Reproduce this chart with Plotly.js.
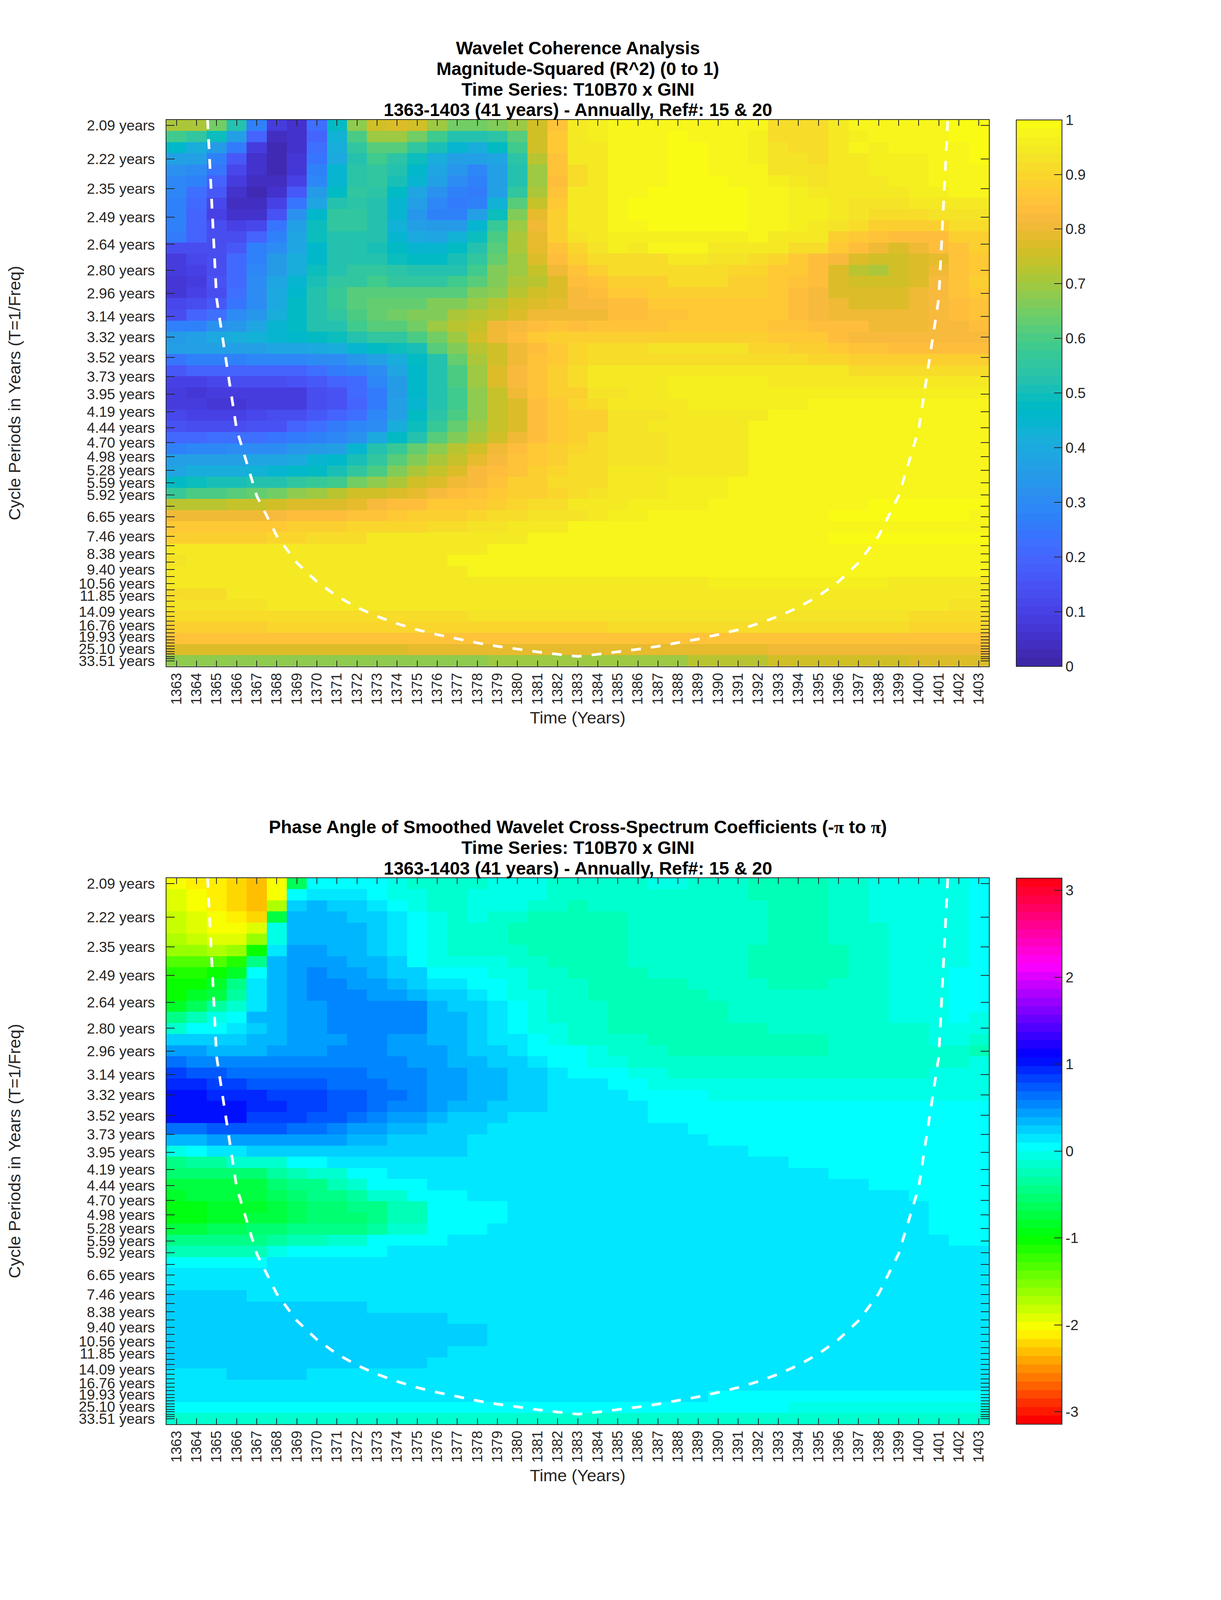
<!DOCTYPE html>
<html>
<head>
<meta charset="utf-8">
<script src="https://cdn.plot.ly/plotly-3.0.1.min.js"></script>
<style>html,body{margin:0;padding:0;background:#fff;overflow:hidden}</style>
</head>
<body>
<div id="chart"></div>
<script>
// Time axis
const years = [1363,1364,1365,1366,1367,1368,1369,1370,1371,1372,1373,1374,1375,1376,1377,1378,1379,1380,1381,1382,1383,1384,1385,1386,1387,1388,1389,1390,1391,1392,1393,1394,1395,1396,1397,1398,1399,1400,1401,1402,1403];

// Cycle periods, one per row of the grids, top to bottom
const periods = [2.09,2.22,2.35,2.49,2.64,2.80,2.96,3.14,3.32,3.52,3.73,3.95,4.19,4.44,4.70,4.98,5.28,5.59,5.92,6.28,6.65,7.04,7.46,7.91,8.38,8.88,9.40,9.96,10.56,11.18,11.85,12.55,13.30,14.09,14.93,15.82,16.76,17.75,18.81,19.93,21.11,22.37,23.70,25.10,26.60,28.18,29.86,31.63,33.51];
const labelledPeriods = [2.09,2.22,2.35,2.49,2.64,2.80,2.96,3.14,3.32,3.52,3.73,3.95,4.19,4.44,4.70,4.98,5.28,5.59,5.92,6.65,7.46,8.38,9.40,10.56,11.85,14.09,16.76,19.93,25.10,33.51];

// Cone of influence: period reached at each year from 1364 to 1402
const coiYears = [1364,1365,1366,1367,1368,1369,1370,1371,1372,1373,1374,1375,1376,1377,1378,1379,1380,1381,1382,1383,1384,1385,1386,1387,1388,1389,1390,1391,1392,1393,1394,1395,1396,1397,1398,1399,1400,1401,1402];
const coiPeriods = [1.5,3.0,4.47,5.95,7.44,8.93,10.4,11.9,13.4,14.9,16.4,17.9,19.3,20.8,22.3,23.8,25.3,26.8,28.3,29.8,28.3,26.8,25.3,23.8,22.3,20.8,19.3,17.9,16.4,14.9,13.4,11.9,10.4,8.93,7.44,5.95,4.47,3.0,1.5];

// Magnitude-squared coherence, rows follow periods, columns follow years
const coherence = [
[.71,.71,.65,.53,.27,.09,.06,.22,.47,.68,.76,.78,.75,.70,.65,.65,.66,.70,.76,.85,.94,.96,.97,.97,.97,.97,.97,.97,.97,.97,.92,.91,.91,.95,.97,.97,.97,.97,.98,.99,.99],
[.58,.56,.49,.36,.19,.04,.05,.20,.43,.60,.69,.70,.65,.58,.53,.52,.54,.62,.76,.87,.94,.96,.97,.97,.97,.99,.97,.97,.97,.96,.92,.91,.91,.95,.96,.97,.97,.97,.97,.99,.99],
[.46,.42,.35,.25,.09,.02,.05,.23,.41,.55,.62,.62,.55,.50,.44,.41,.47,.58,.75,.87,.94,.95,.97,.97,.97,.99,.99,.97,.97,.96,.93,.91,.91,.94,.97,.96,.97,.97,.97,.97,.99],
[.37,.36,.27,.17,.06,.02,.07,.24,.40,.53,.59,.54,.49,.42,.36,.36,.39,.54,.72,.85,.94,.95,.97,.97,.97,.99,.99,.97,.97,.96,.93,.93,.91,.94,.95,.96,.96,.96,.97,.97,.99],
[.32,.31,.24,.11,.05,.02,.07,.27,.44,.54,.56,.53,.46,.38,.33,.29,.37,.52,.70,.85,.92,.95,.97,.97,.97,.99,.99,.97,.97,.97,.93,.93,.93,.94,.95,.96,.96,.96,.97,.97,.97],
[.29,.27,.19,.08,.04,.04,.10,.29,.45,.54,.56,.50,.44,.37,.30,.28,.36,.52,.70,.84,.92,.95,.97,.97,.97,.99,.99,.99,.97,.97,.96,.95,.93,.94,.95,.95,.96,.96,.97,.97,.97],
[.29,.23,.17,.06,.03,.06,.17,.35,.48,.55,.54,.47,.39,.32,.27,.26,.36,.56,.71,.85,.94,.95,.97,.97,.99,.99,.99,.99,.99,.97,.97,.96,.95,.95,.95,.95,.95,.96,.96,.97,.97],
[.28,.21,.11,.04,.04,.10,.24,.39,.52,.54,.52,.45,.37,.29,.25,.28,.43,.62,.74,.87,.94,.95,.97,.99,.99,.99,.99,.99,.99,.97,.97,.96,.96,.94,.93,.93,.93,.94,.94,.95,.95],
[.28,.20,.10,.06,.06,.15,.32,.46,.55,.55,.52,.44,.34,.28,.27,.36,.49,.66,.79,.88,.94,.95,.97,.99,.99,.99,.99,.99,.99,.97,.97,.96,.96,.94,.93,.91,.91,.91,.93,.93,.93],
[.28,.20,.13,.10,.12,.24,.36,.49,.55,.55,.52,.43,.37,.35,.35,.44,.57,.70,.80,.88,.94,.95,.97,.97,.99,.99,.99,.99,.99,.97,.97,.96,.94,.93,.91,.89,.88,.88,.89,.91,.91],
[.25,.19,.14,.14,.19,.28,.38,.49,.53,.53,.52,.45,.40,.38,.43,.49,.60,.71,.79,.88,.93,.94,.96,.96,.96,.96,.96,.96,.96,.97,.95,.94,.94,.89,.87,.85,.83,.83,.84,.88,.88],
[.14,.14,.14,.17,.27,.31,.39,.46,.52,.52,.50,.47,.44,.44,.48,.52,.61,.71,.79,.85,.90,.93,.96,.95,.97,.97,.97,.95,.95,.94,.94,.92,.91,.87,.84,.81,.78,.81,.83,.85,.88],
[.09,.11,.13,.21,.27,.35,.42,.46,.52,.52,.52,.49,.47,.47,.50,.55,.63,.70,.77,.84,.88,.91,.92,.92,.92,.95,.95,.93,.93,.92,.90,.87,.84,.82,.77,.75,.75,.77,.79,.85,.87],
[.08,.10,.13,.21,.29,.35,.41,.49,.52,.55,.55,.54,.52,.52,.52,.58,.66,.70,.74,.80,.85,.88,.91,.91,.92,.92,.92,.92,.90,.90,.87,.86,.84,.78,.73,.71,.75,.78,.80,.85,.87],
[.07,.09,.15,.21,.30,.38,.44,.50,.55,.56,.58,.56,.56,.56,.58,.61,.66,.71,.73,.77,.84,.85,.88,.88,.88,.91,.91,.91,.89,.88,.86,.85,.83,.78,.75,.75,.75,.78,.82,.85,.88],
[.07,.10,.14,.22,.30,.40,.46,.52,.57,.61,.62,.62,.62,.62,.62,.66,.68,.73,.76,.77,.82,.83,.87,.87,.88,.88,.88,.88,.88,.88,.87,.84,.82,.78,.77,.77,.78,.80,.82,.85,.87],
[.11,.13,.16,.24,.31,.40,.48,.52,.57,.62,.64,.64,.64,.66,.67,.70,.72,.76,.77,.79,.82,.82,.84,.84,.86,.87,.87,.87,.87,.87,.86,.84,.82,.80,.78,.78,.78,.80,.82,.83,.85],
[.14,.19,.22,.30,.34,.42,.47,.52,.56,.60,.63,.65,.67,.67,.71,.73,.74,.78,.80,.81,.81,.81,.84,.84,.85,.85,.87,.87,.87,.87,.86,.84,.82,.80,.80,.80,.80,.80,.82,.84,.85],
[.27,.27,.32,.34,.38,.44,.48,.52,.53,.58,.62,.62,.65,.69,.72,.74,.80,.82,.84,.85,.84,.85,.85,.85,.85,.87,.87,.87,.87,.87,.85,.85,.84,.83,.83,.80,.80,.80,.82,.82,.83],
[.35,.36,.40,.42,.43,.45,.46,.47,.49,.53,.55,.56,.60,.65,.70,.75,.80,.84,.87,.88,.88,.88,.88,.88,.88,.88,.88,.88,.88,.88,.87,.87,.86,.84,.82,.82,.82,.82,.82,.82,.82],
[.36,.36,.36,.36,.37,.38,.39,.40,.41,.44,.47,.49,.51,.61,.66,.72,.76,.80,.84,.87,.90,.91,.91,.91,.93,.93,.93,.93,.93,.90,.90,.89,.89,.87,.85,.85,.84,.84,.84,.84,.84],
[.24,.27,.28,.28,.29,.29,.29,.30,.31,.33,.37,.42,.48,.53,.63,.71,.76,.80,.85,.87,.90,.92,.92,.92,.92,.92,.92,.92,.92,.92,.92,.92,.90,.90,.89,.89,.88,.88,.88,.88,.88],
[.17,.19,.19,.19,.19,.20,.20,.22,.25,.27,.31,.38,.46,.52,.60,.70,.77,.82,.85,.88,.91,.94,.94,.94,.94,.94,.94,.94,.94,.94,.94,.94,.94,.94,.91,.91,.91,.91,.91,.91,.91],
[.10,.10,.11,.13,.13,.14,.15,.17,.19,.21,.29,.35,.46,.52,.60,.70,.77,.82,.85,.88,.91,.94,.95,.95,.95,.96,.96,.96,.96,.96,.95,.95,.95,.95,.95,.95,.95,.95,.95,.95,.95],
[.09,.07,.08,.09,.08,.08,.09,.13,.15,.21,.26,.35,.46,.52,.58,.68,.74,.80,.85,.88,.89,.93,.93,.94,.94,.96,.96,.96,.96,.96,.96,.96,.96,.96,.96,.96,.96,.96,.96,.96,.96],
[.09,.09,.07,.07,.08,.08,.09,.13,.15,.19,.26,.36,.45,.52,.58,.68,.74,.78,.84,.87,.90,.91,.94,.94,.94,.94,.96,.96,.96,.96,.96,.96,.97,.97,.97,.97,.97,.97,.97,.97,.97],
[.11,.10,.10,.10,.12,.13,.14,.17,.19,.22,.29,.37,.47,.54,.60,.68,.74,.78,.84,.87,.88,.89,.93,.93,.93,.95,.95,.95,.95,.95,.97,.97,.97,.97,.97,.97,.97,.97,.97,.97,.97],
[.15,.14,.14,.14,.15,.15,.19,.23,.25,.29,.31,.42,.49,.57,.63,.70,.74,.78,.84,.87,.88,.89,.93,.93,.94,.95,.95,.95,.95,.97,.97,.97,.97,.97,.97,.97,.97,.97,.97,.97,.97],
[.21,.21,.23,.23,.23,.24,.25,.27,.29,.32,.40,.48,.53,.61,.66,.71,.76,.81,.84,.87,.89,.91,.93,.93,.93,.95,.95,.95,.95,.97,.97,.97,.97,.97,.97,.97,.97,.97,.97,.97,.97],
[.28,.29,.29,.30,.31,.31,.33,.35,.37,.45,.52,.57,.63,.68,.72,.76,.81,.84,.87,.89,.90,.91,.93,.93,.93,.95,.95,.95,.95,.97,.97,.97,.97,.97,.97,.97,.97,.97,.97,.97,.97],
[.36,.36,.37,.37,.38,.38,.40,.44,.46,.50,.56,.62,.67,.71,.74,.79,.82,.85,.87,.89,.91,.92,.93,.93,.93,.95,.95,.95,.95,.97,.97,.97,.97,.97,.97,.97,.97,.97,.97,.97,.97],
[.38,.41,.42,.42,.43,.44,.46,.48,.51,.56,.60,.67,.71,.74,.78,.82,.84,.85,.89,.90,.91,.92,.94,.94,.95,.95,.95,.95,.95,.97,.97,.97,.97,.97,.97,.97,.97,.97,.97,.97,.97],
[.48,.49,.50,.50,.52,.53,.55,.57,.59,.65,.68,.71,.75,.78,.81,.82,.85,.88,.88,.91,.91,.92,.94,.94,.95,.96,.96,.96,.97,.97,.97,.97,.97,.97,.97,.97,.97,.97,.97,.97,.97],
[.57,.60,.60,.62,.64,.65,.68,.70,.72,.75,.75,.78,.79,.82,.84,.85,.86,.88,.89,.90,.91,.93,.94,.95,.95,.96,.96,.96,.98,.98,.98,.98,.98,.98,.98,.98,.98,.98,.98,.98,.98],
[.72,.72,.72,.74,.74,.75,.77,.78,.78,.79,.82,.83,.84,.86,.86,.87,.89,.90,.91,.92,.94,.95,.95,.96,.96,.96,.96,.97,.97,.97,.97,.97,.97,.97,.97,.99,.99,.99,.99,.99,.99],
[.81,.81,.81,.81,.81,.82,.83,.83,.84,.85,.85,.87,.88,.89,.89,.90,.91,.92,.93,.93,.93,.95,.96,.96,.97,.97,.97,.97,.97,.97,.97,.97,.97,.99,.99,.99,.99,.99,.99,.99,.98],
[.87,.87,.87,.87,.87,.86,.89,.89,.89,.90,.90,.90,.90,.91,.92,.93,.93,.94,.94,.95,.97,.97,.97,.97,.97,.97,.97,.97,.97,.97,.97,.97,.98,.98,.98,.98,.98,.98,.98,.98,.98],
[.89,.89,.89,.89,.89,.90,.90,.91,.91,.91,.94,.94,.94,.94,.95,.95,.95,.95,.97,.97,.97,.97,.97,.97,.97,.97,.97,.97,.97,.97,.97,.97,.97,.99,.99,.99,.99,.99,.99,.99,.99],
[.94,.94,.94,.94,.94,.94,.94,.94,.94,.94,.95,.95,.95,.95,.95,.95,.97,.97,.97,.97,.97,.97,.98,.98,.98,.98,.98,.98,.98,.98,.98,.98,.98,.98,.98,.98,.98,.98,.98,.98,.98],
[.93,.95,.95,.95,.95,.95,.95,.95,.95,.95,.95,.95,.95,.95,.97,.97,.97,.97,.97,.97,.97,.97,.97,.97,.98,.98,.98,.98,.98,.98,.98,.98,.98,.98,.98,.98,.98,.98,.98,.98,.97],
[.94,.95,.95,.95,.95,.95,.95,.95,.95,.95,.95,.95,.95,.95,.95,.97,.97,.97,.97,.97,.97,.97,.97,.97,.97,.97,.97,.97,.97,.97,.97,.97,.97,.97,.97,.97,.97,.97,.97,.97,.97],
[.94,.94,.94,.94,.94,.94,.94,.95,.95,.95,.95,.95,.95,.95,.95,.95,.95,.95,.95,.95,.95,.95,.95,.95,.95,.95,.95,.96,.96,.96,.96,.96,.96,.96,.96,.96,.95,.95,.95,.95,.95],
[.92,.92,.92,.94,.94,.94,.94,.94,.94,.94,.94,.94,.94,.94,.94,.94,.94,.94,.95,.95,.95,.95,.95,.95,.95,.95,.95,.95,.95,.95,.95,.95,.95,.95,.95,.95,.95,.95,.95,.94,.94],
[.93,.93,.93,.93,.93,.94,.94,.94,.94,.94,.94,.94,.94,.94,.94,.94,.94,.94,.94,.94,.94,.94,.94,.94,.94,.94,.94,.94,.94,.94,.94,.94,.94,.94,.94,.94,.94,.94,.94,.93,.93],
[.92,.92,.92,.92,.92,.92,.92,.92,.92,.92,.92,.92,.92,.92,.92,.93,.93,.93,.93,.93,.93,.93,.93,.93,.93,.93,.93,.93,.93,.93,.93,.93,.93,.93,.93,.93,.93,.92,.92,.92,.92],
[.89,.89,.89,.89,.89,.90,.90,.90,.90,.90,.90,.90,.90,.90,.90,.90,.90,.90,.90,.90,.90,.90,.92,.92,.92,.92,.92,.92,.92,.92,.92,.92,.92,.92,.92,.92,.92,.90,.90,.90,.90],
[.85,.85,.85,.85,.85,.85,.85,.85,.85,.85,.85,.85,.85,.85,.85,.85,.85,.85,.85,.85,.85,.85,.85,.85,.85,.85,.85,.85,.85,.85,.85,.85,.85,.85,.85,.85,.85,.85,.85,.85,.85],
[.77,.77,.77,.77,.77,.77,.77,.77,.77,.77,.77,.77,.79,.79,.79,.79,.79,.79,.79,.79,.79,.79,.79,.79,.79,.79,.79,.79,.79,.79,.81,.81,.81,.81,.81,.81,.81,.81,.81,.81,.81],
[.68,.68,.68,.68,.68,.68,.68,.68,.68,.68,.68,.68,.68,.68,.68,.68,.70,.70,.70,.70,.70,.70,.70,.70,.70,.70,.73,.73,.73,.73,.75,.75,.75,.75,.75,.75,.75,.77,.77,.77,.77]
];

// Phase angle in radians, rows follow periods, columns follow years
const phase = [
[-2.05,-2.15,-2.15,-2.22,-2.32,-2.05,-.6,.02,.02,.02,.02,-.05,-.15,-.15,-.15,-.15,-.05,-.05,-.05,-.15,-.15,-.15,-.15,-.15,-.05,-.05,-.15,-.15,-.15,-.25,-.25,-.25,-.25,-.15,-.15,-.05,-.05,-.05,-.05,-.05,.02],
[-1.95,-2.02,-2.1,-2.22,-2.32,-2.05,.02,.1,.1,.1,.02,-.05,-.05,-.15,-.15,-.05,-.05,-.05,-.05,-.15,-.15,-.15,-.15,-.15,-.15,-.15,-.15,-.15,-.15,-.25,-.25,-.25,-.25,-.15,-.15,-.05,-.05,-.05,-.05,-.05,.02],
[-1.95,-2.02,-2.1,-2.22,-2.32,-1.7,.2,.3,.2,.2,.1,.02,-.05,-.15,-.15,-.05,-.05,-.05,-.15,-.15,-.25,-.15,-.15,-.15,-.15,-.15,-.15,-.15,-.15,-.15,-.25,-.25,-.25,-.15,-.15,-.05,-.05,-.05,-.05,-.05,.02],
[-1.8,-1.9,-2.05,-2.1,-2.22,-.72,.3,.3,.3,.2,.2,.1,.02,-.05,-.15,-.05,-.15,-.15,-.25,-.25,-.25,-.25,-.25,-.15,-.15,-.15,-.15,-.15,-.15,-.15,-.25,-.25,-.25,-.15,-.15,-.05,-.05,-.05,-.05,-.05,.02],
[-1.8,-1.9,-2.05,-2.05,-1.95,-.05,.3,.3,.3,.3,.2,.1,.02,-.05,-.15,-.15,-.15,-.25,-.25,-.25,-.25,-.25,-.25,-.15,-.15,-.15,-.15,-.15,-.15,-.15,-.25,-.25,-.25,-.15,-.15,-.15,-.05,-.05,-.05,-.05,.02],
[-1.7,-1.8,-1.9,-1.9,-1.6,-.05,.3,.3,.3,.3,.2,.1,.02,-.05,-.15,-.15,-.15,-.25,-.25,-.25,-.25,-.25,-.25,-.15,-.15,-.15,-.15,-.15,-.15,-.15,-.25,-.25,-.25,-.15,-.15,-.15,-.05,-.05,-.05,-.05,.02],
[-1.6,-1.6,-1.7,-1.6,-1.02,.1,.4,.4,.3,.3,.2,.1,.02,-.05,-.15,-.15,-.15,-.15,-.25,-.25,-.25,-.25,-.25,-.15,-.15,-.15,-.15,-.15,-.15,-.25,-.25,-.25,-.25,-.25,-.15,-.15,-.05,-.05,-.05,-.05,.02],
[-1.35,-1.35,-1.3,-1.15,-.4,.3,.4,.4,.4,.3,.3,.2,.02,-.05,-.05,-.05,-.05,-.15,-.15,-.25,-.25,-.25,-.25,-.15,-.15,-.15,-.15,-.15,-.15,-.25,-.25,-.25,-.25,-.25,-.15,-.15,-.05,-.05,-.05,-.05,.02],
[-1.15,-1.15,-1.03,-.8,.02,.3,.4,.5,.4,.4,.3,.2,.2,.02,.02,.02,-.05,-.05,-.15,-.15,-.25,-.25,-.25,-.25,-.15,-.15,-.15,-.15,-.15,-.25,-.25,-.25,-.25,-.25,-.15,-.15,-.05,-.05,-.05,.02,.02],
[-1.03,-1.0,-.85,-.45,.1,.3,.4,.5,.5,.4,.4,.3,.2,.1,.1,.02,.02,-.05,-.15,-.15,-.15,-.25,-.25,-.25,-.25,-.25,-.15,-.15,-.15,-.15,-.25,-.25,-.25,-.15,-.15,-.15,-.05,-.05,-.05,.02,.02],
[-1.0,-.85,-.7,-.3,.1,.3,.4,.5,.5,.5,.4,.4,.3,.2,.2,.1,.02,-.05,-.05,-.15,-.15,-.25,-.25,-.25,-.25,-.25,-.25,-.15,-.15,-.15,-.15,-.15,-.15,-.15,-.15,-.15,-.05,-.05,-.05,.02,.02],
[-.8,-.65,-.3,-.1,.1,.3,.4,.4,.5,.5,.5,.55,.55,.3,.2,.2,.1,.02,-.05,-.15,-.15,-.15,-.25,-.25,-.25,-.25,-.25,-.25,-.15,-.15,-.15,-.15,-.15,-.15,-.15,-.15,-.05,-.05,-.05,.02,.02],
[-.45,-.2,-.05,.02,.3,.3,.4,.4,.5,.5,.5,.55,.55,.3,.3,.2,.1,.02,-.05,-.15,-.15,-.15,-.25,-.25,-.25,-.25,-.25,-.25,-.15,-.15,-.15,-.15,-.15,-.15,-.15,-.15,-.05,-.05,-.05,.02,-.05],
[-.15,.02,.02,.1,.2,.3,.4,.4,.5,.5,.5,.55,.55,.3,.3,.2,.1,.02,-.05,-.05,-.15,-.15,-.25,-.25,-.25,-.25,-.25,-.25,-.25,-.25,-.15,-.15,-.15,-.15,-.15,-.15,-.15,-.15,-.05,-.05,-.05],
[.2,.2,.2,.2,.3,.3,.4,.4,.4,.5,.5,.4,.4,.3,.3,.2,.1,.1,.02,-.05,-.15,-.15,-.15,-.15,-.25,-.25,-.25,-.25,-.25,-.25,-.25,-.25,-.25,-.15,-.15,-.15,-.15,-.15,-.05,-.05,-.15],
[.4,.4,.3,.3,.3,.4,.4,.4,.5,.5,.5,.4,.4,.4,.3,.2,.2,.1,.02,.02,.02,-.05,-.15,-.15,-.15,-.25,-.25,-.25,-.25,-.25,-.25,-.25,-.25,-.15,-.15,-.15,-.15,-.15,-.15,-.15,-.25],
[.65,.55,.55,.55,.55,.55,.55,.55,.55,.55,.55,.55,.4,.4,.3,.3,.2,.2,.1,.02,.02,-.05,-.05,-.15,-.15,-.15,-.15,-.15,-.15,-.15,-.15,-.15,-.15,-.15,-.15,-.15,-.15,-.15,-.15,-.15,-.05],
[.85,.7,.7,.65,.65,.65,.65,.65,.65,.65,.55,.55,.55,.4,.4,.3,.3,.2,.2,.1,.02,.02,.02,-.05,-.05,-.15,-.15,-.15,-.15,-.15,-.15,-.15,-.15,-.15,-.15,-.15,-.15,-.15,-.05,-.05,-.05],
[.92,.92,.8,.8,.7,.7,.7,.7,.65,.65,.65,.55,.55,.4,.4,.3,.3,.2,.2,.1,.1,.1,.02,.02,-.05,-.05,-.05,-.05,-.05,-.05,-.05,-.05,-.05,-.05,-.05,-.05,-.05,-.05,-.05,-.05,-.05],
[1.05,1.05,.9,.9,.9,.8,.8,.8,.7,.7,.6,.6,.55,.4,.4,.3,.3,.2,.2,.1,.1,.1,.1,.02,.02,.02,.02,-.05,-.05,-.05,-.05,-.05,-.05,-.05,-.05,-.05,-.05,-.05,-.05,-.05,-.05],
[1.05,1.05,1.05,1.05,.95,.95,.8,.8,.7,.7,.65,.55,.55,.4,.3,.3,.2,.2,.2,.1,.1,.1,.1,.1,.02,.02,.02,.02,.02,.02,.02,.02,.02,.02,.02,.02,.02,.02,.02,.02,.02],
[1.0,1.0,1.0,1.0,.85,.85,.85,.7,.7,.65,.55,.4,.4,.3,.2,.2,.2,.1,.1,.1,.1,.1,.1,.1,.02,.02,.02,.02,.02,.02,.02,.02,.02,.02,.02,.02,.02,.02,.02,.02,.02],
[.65,.65,.75,.75,.75,.75,.65,.65,.55,.4,.4,.35,.35,.2,.2,.2,.1,.1,.1,.1,.1,.1,.1,.1,.1,.1,.02,.02,.02,.02,.02,.02,.02,.02,.02,.02,.02,.02,.02,.02,.02],
[.33,.33,.4,.4,.4,.4,.4,.4,.4,.33,.33,.2,.2,.2,.2,.1,.1,.1,.1,.1,.1,.1,.1,.1,.1,.1,.1,.02,.02,.02,.02,.02,.02,.02,.02,.02,.02,.02,.02,.02,.02],
[-.05,.02,.1,.1,.2,.2,.2,.2,.2,.2,.2,.2,.2,.2,.2,.1,.1,.1,.1,.1,.1,.1,.1,.1,.1,.1,.1,.1,.1,.02,.02,.02,.02,.02,.02,.02,.02,.02,.02,.02,.02],
[-.4,-.3,-.3,-.15,-.15,-.15,.02,.02,.1,.1,.1,.1,.1,.1,.1,.1,.1,.1,.1,.1,.1,.1,.1,.1,.1,.1,.1,.1,.1,.1,.1,.02,.02,.02,.02,.02,.02,.02,.02,.02,.02],
[-.5,-.5,-.5,-.55,-.5,-.35,-.25,-.15,-.15,.02,.02,.1,.1,.1,.1,.1,.1,.1,.1,.1,.1,.1,.1,.1,.1,.1,.1,.1,.1,.1,.1,.1,.1,.02,.02,.02,.02,.02,.02,.02,.02],
[-.7,-.7,-.7,-.7,-.7,-.55,-.45,-.4,-.25,-.15,.02,.02,.02,.1,.1,.1,.1,.1,.1,.1,.1,.1,.1,.1,.1,.1,.1,.1,.1,.1,.1,.1,.1,.1,.1,.02,.02,.02,.02,.02,.02],
[-.8,-.75,-.75,-.75,-.75,-.65,-.55,-.45,-.4,-.35,-.15,-.15,.02,.02,.02,.1,.1,.1,.1,.1,.1,.1,.1,.1,.1,.1,.1,.1,.1,.1,.1,.1,.1,.1,.1,.1,.1,.02,.02,.02,.02],
[-.95,-.9,-.85,-.8,-.8,-.7,-.6,-.55,-.5,-.45,-.4,-.25,-.25,.02,.02,.02,.02,.1,.1,.1,.1,.1,.1,.1,.1,.1,.1,.1,.1,.1,.1,.1,.1,.1,.1,.1,.1,.1,.02,.02,.02],
[-.95,-.9,-.85,-.8,-.75,-.7,-.6,-.55,-.55,-.5,-.45,-.25,-.25,.02,.02,.02,.02,.1,.1,.1,.1,.1,.1,.1,.1,.1,.1,.1,.1,.1,.1,.1,.1,.1,.1,.1,.1,.1,.02,.02,.02],
[-.75,-.7,-.65,-.6,-.55,-.55,-.45,-.45,-.4,-.4,-.35,-.15,-.15,.02,.02,.02,.1,.1,.1,.1,.1,.1,.1,.1,.1,.1,.1,.1,.1,.1,.1,.1,.1,.1,.1,.1,.1,.1,.02,.02,.02],
[-.45,-.45,-.45,-.4,-.4,-.35,-.25,-.25,-.15,-.15,.02,.02,.02,.02,.1,.1,.1,.1,.1,.1,.1,.1,.1,.1,.1,.1,.1,.1,.1,.1,.1,.1,.1,.1,.1,.1,.1,.1,.1,.02,.02],
[-.25,-.25,-.25,-.25,-.25,-.05,.02,.02,.02,.02,.02,.1,.1,.1,.1,.1,.1,.1,.1,.1,.1,.1,.1,.1,.1,.1,.1,.1,.1,.1,.1,.1,.1,.1,.1,.1,.1,.1,.1,.1,.1],
[.02,.02,.02,.02,.02,.1,.1,.1,.1,.1,.1,.1,.1,.1,.1,.1,.1,.1,.1,.1,.1,.1,.1,.1,.1,.1,.1,.1,.1,.1,.1,.1,.1,.1,.1,.1,.1,.1,.1,.1,.1],
[.1,.1,.1,.1,.1,.1,.1,.1,.1,.1,.1,.1,.1,.1,.1,.1,.1,.1,.1,.1,.1,.1,.1,.1,.1,.1,.1,.1,.1,.1,.1,.1,.1,.1,.1,.1,.1,.1,.1,.1,.1],
[.1,.1,.1,.1,.1,.1,.1,.1,.1,.1,.1,.1,.1,.1,.1,.1,.1,.1,.1,.1,.1,.1,.1,.1,.1,.1,.1,.1,.1,.1,.1,.1,.1,.1,.1,.1,.1,.1,.1,.1,.1],
[.2,.2,.2,.2,.1,.1,.1,.1,.1,.1,.1,.1,.1,.1,.1,.1,.1,.1,.1,.1,.1,.1,.1,.1,.1,.1,.1,.1,.1,.1,.1,.1,.1,.1,.1,.1,.1,.1,.1,.1,.1],
[.2,.2,.2,.2,.2,.2,.2,.2,.2,.2,.1,.1,.1,.1,.1,.1,.1,.1,.1,.1,.1,.1,.1,.1,.1,.1,.1,.1,.1,.1,.1,.1,.1,.1,.1,.1,.1,.1,.1,.1,.1],
[.2,.2,.2,.2,.2,.2,.2,.2,.2,.2,.2,.2,.2,.2,.1,.1,.1,.1,.1,.1,.1,.1,.1,.1,.1,.1,.1,.1,.1,.1,.1,.1,.1,.1,.1,.1,.1,.1,.1,.1,.1],
[.2,.2,.2,.2,.2,.2,.2,.2,.2,.2,.2,.2,.2,.2,.2,.2,.1,.1,.1,.1,.1,.1,.1,.1,.1,.1,.1,.1,.1,.1,.1,.1,.1,.1,.1,.1,.1,.1,.1,.1,.1],
[.2,.2,.2,.2,.2,.2,.2,.2,.2,.2,.2,.2,.2,.2,.2,.2,.1,.1,.1,.1,.1,.1,.1,.1,.1,.1,.1,.1,.1,.1,.1,.1,.1,.1,.1,.1,.1,.1,.1,.1,.1],
[.2,.2,.2,.2,.2,.2,.2,.2,.2,.2,.2,.2,.2,.2,.1,.1,.1,.1,.1,.1,.1,.1,.1,.1,.1,.1,.1,.1,.1,.1,.1,.1,.1,.1,.1,.1,.1,.1,.1,.1,.1],
[.2,.2,.2,.2,.2,.2,.2,.2,.2,.2,.2,.2,.2,.1,.1,.1,.1,.1,.1,.1,.1,.1,.1,.1,.1,.1,.1,.1,.1,.1,.1,.1,.1,.1,.1,.1,.1,.1,.1,.1,.1],
[.1,.1,.1,.2,.2,.2,.2,.1,.1,.1,.1,.1,.1,.1,.1,.1,.1,.1,.1,.1,.1,.1,.1,.1,.1,.1,.1,.1,.1,.1,.1,.1,.1,.1,.1,.1,.1,.1,.1,.1,.1],
[.1,.1,.1,.1,.1,.1,.1,.1,.1,.1,.1,.1,.1,.1,.1,.1,.1,.1,.1,.1,.1,.1,.1,.1,.1,.1,.1,.1,.1,.1,.1,.1,.1,.1,.1,.1,.1,.1,.1,.1,.1],
[.1,.1,.1,.1,.1,.1,.1,.1,.1,.1,.1,.1,.1,.1,.1,.1,.1,.1,.1,.1,.1,.1,.1,.1,.1,.1,.1,.02,.02,.02,.02,.02,.02,.02,.02,.02,.02,.02,.02,.02,.02],
[.02,.02,.02,.02,.02,.02,.02,.02,.02,.02,.02,.02,.02,.02,.02,.02,.02,.02,.02,.02,.02,.02,.02,.02,.02,.02,.02,.02,.02,.02,.02,-.05,-.05,-.05,-.05,-.05,-.05,-.05,-.05,-.05,-.05],
[-.15,-.15,-.15,-.15,-.15,-.15,-.15,-.15,-.15,-.15,-.15,-.15,-.15,-.15,-.15,-.15,-.15,-.15,-.15,-.15,-.15,-.15,-.15,-.15,-.15,-.15,-.15,-.15,-.15,-.15,-.15,-.15,-.15,-.15,-.15,-.15,-.15,-.15,-.15,-.15,-.15]
];

// Colour bar ticks
const coherenceTicks = [0,0.1,0.2,0.3,0.4,0.5,0.6,0.7,0.8,0.9,1];
const phaseTicks = [-3,-2,-1,0,1,2,3];

// Title lines
const coherenceTitle = ['Wavelet Coherence Analysis','Magnitude-Squared (R^2) (0 to 1)','Time Series: T10B70 x GINI','1363-1403 (41 years) - Annually, Ref#: 15 & 20'];
const phaseTitle = ['Phase Angle of Smoothed Wavelet Cross-Spectrum Coefficients (-<span style="font-family:\'Liberation Serif\'">π</span> to <span style="font-family:\'Liberation Serif\'">π</span>)','Time Series: T10B70 x GINI','1363-1403 (41 years) - Annually, Ref#: 15 & 20'];

// parula with 64 levels
const parula = [[.2422,.1504,.6603],[.2504,.1650,.7076],[.2578,.1818,.7511],[.2647,.1978,.7952],[.2706,.2147,.8364],[.2751,.2342,.8710],[.2783,.2559,.8991],[.2803,.2782,.9221],[.2813,.3006,.9414],[.2810,.3228,.9579],[.2795,.3447,.9717],[.2760,.3667,.9829],[.2699,.3892,.9906],[.2602,.4123,.9952],[.2440,.4358,.9988],[.2206,.4603,.9973],[.1963,.4847,.9892],[.1834,.5074,.9798],[.1786,.5289,.9682],[.1764,.5499,.9520],[.1687,.5703,.9359],[.1540,.5902,.9218],[.1460,.6091,.9079],[.1380,.6276,.8973],[.1248,.6459,.8883],[.1113,.6635,.8763],[.0952,.6798,.8598],[.0689,.6948,.8394],[.0297,.7082,.8163],[.0036,.7197,.7917],[.0067,.7301,.7655],[.0433,.7411,.7394],[.0964,.7500,.7120],[.1408,.7584,.6842],[.1717,.7670,.6554],[.1938,.7758,.6251],[.2161,.7843,.5923],[.2470,.7918,.5567],[.2906,.7973,.5188],[.3406,.8008,.4789],[.3909,.8029,.4354],[.4456,.8024,.3909],[.5044,.7993,.3480],[.5616,.7942,.3045],[.6174,.7876,.2612],[.6720,.7793,.2227],[.7242,.7698,.1910],[.7738,.7598,.1646],[.8203,.7498,.1535],[.8634,.7406,.1596],[.9035,.7330,.1774],[.9393,.7288,.2100],[.9728,.7298,.2394],[.9956,.7434,.2371],[.9970,.7659,.2199],[.9952,.7893,.2028],[.9892,.8136,.1885],[.9786,.8386,.1766],[.9676,.8639,.1643],[.9610,.8890,.1537],[.9597,.9135,.1423],[.9628,.9373,.1265],[.9691,.9606,.1064],[.9769,.9839,.0805]];

// hsv with 64 levels
function hsvLevel(h) {
    const f = h * 6, k = Math.floor(f) % 6, t = f - Math.floor(f);
    return [[1,t,0],[1-t,1,0],[0,1,t],[0,1-t,1],[t,0,1],[1,0,1-t]][k];
}
const hsv = Array.from({length: 64}, (_, i) => hsvLevel(i / 64));

// Hard edged colour scale so the bands stay visible
function steppedScale(levels) {
    const scale = [];
    levels.forEach((c, i) => {
        const css = 'rgb(' + c.map(v => Math.round(v * 255)).join(',') + ')';
        scale.push([i / levels.length, css], [(i + 1) / levels.length, css]);
    });
    return scale;
}

// The window can be shorter than the 3125x6252 design, so the layout follows it
const refW = 3125, refH = 6252;
const W = window.innerWidth, H = window.innerHeight;
const fx = W / refW, fy = H / refH;
const inkColor = '#262626';
const plotLeft = 426, plotRight = 2531, barLeft = 2601;
const tops = [468, 3431], bottoms = [2604, 5565];

const tickSize = 57 * fy;
const axisTitleSize = 63 * Math.min(1, fy * 1.05);
const mainTitleSize = 64 * Math.min(1, fy * 1.1);

document.getElementById('chart').style.width = W + 'px';
document.getElementById('chart').style.height = H + 'px';

// Rows are evenly spaced between the first and last frequency
const freqFirst = 1 / periods[0];
const freqLast = 1 / periods[periods.length - 1];
const freqStep = (freqLast - freqFirst) / (periods.length - 1);
const rowFreq = periods.map((_, i) => freqFirst + i * freqStep);
const freqRange = [freqLast + freqStep / 2, freqFirst - freqStep / 2];

function heatTrace(z, levels, zmin, zmax, ticks, axisX, axisY, panel) {
    return {
        type: 'heatmap', x: years, y: rowFreq, z: z, xaxis: axisX, yaxis: axisY,
        zmin: zmin, zmax: zmax, zsmooth: false, colorscale: steppedScale(levels),
        hoverinfo: 'skip',
        colorbar: {
            x: barLeft / refW, xanchor: 'left', xpad: 0,
            y: 1 - tops[panel] / refH, yanchor: 'top', ypad: 0,
            len: (bottoms[panel] - tops[panel]) / refH, lenmode: 'fraction',
            thickness: 117 * fx, thicknessmode: 'pixels',
            outlinewidth: 2, outlinecolor: inkColor,
            ticks: 'inside', ticklen: 21 * fx, tickwidth: 2, tickcolor: inkColor,
            tickmode: 'array', tickvals: ticks, ticktext: ticks.map(String),
            tickfont: {family: 'Liberation Sans', size: tickSize, color: inkColor}
        }
    };
}

function coiTrace(axisX, axisY) {
    const dashLen = 31 * Math.sqrt(fy);
    return {
        type: 'scatter', mode: 'lines', x: coiYears, y: coiPeriods.map(p => 1 / p),
        xaxis: axisX, yaxis: axisY, hoverinfo: 'skip', showlegend: false,
        line: {color: '#ffffff', width: 8.5 * Math.sqrt(fy), dash: dashLen + 'px,' + dashLen * 1.03 + 'px'}
    };
}

function xAxis(anchor) {
    return {
        domain: [plotLeft / refW, plotRight / refW], anchor: anchor,
        range: [1362.5, 1403.5], tickmode: 'array', tickvals: years, ticktext: years.map(String),
        tickangle: -90, ticks: 'inside', ticklen: 23 * fy, tickwidth: 2, tickcolor: inkColor,
        showline: true, linecolor: inkColor, linewidth: 2, mirror: 'ticks', showgrid: false, zeroline: false,
        ticklabelstandoff: 14 * fy,
        tickfont: {family: 'Liberation Sans', size: 56 * fy, color: inkColor},
        title: {text: 'Time (Years)', standoff: 28 * fy, font: {family: 'Liberation Sans', size: axisTitleSize, color: inkColor}}
    };
}

function yAxis(panel, anchor) {
    // Keeps the rotated title at the reference's distance from the page edge
    const titleGap = plotLeft - 20 * fx - 5.225 * tickSize - 50 * fx - 0.6 * axisTitleSize;
    return {
        domain: [1 - bottoms[panel] / refH, 1 - tops[panel] / refH], anchor: anchor,
        range: freqRange, tickmode: 'array', tickvals: periods.map(p => 1 / p),
        ticktext: periods.map(p => labelledPeriods.includes(p) ? p.toFixed(2) + ' years' : ''),
        ticks: 'inside', ticklen: 21 * fx, tickwidth: 2, tickcolor: inkColor,
        showline: true, linecolor: inkColor, linewidth: 2, mirror: 'ticks', showgrid: false, zeroline: false,
        ticklabelstandoff: 20 * fx,
        tickfont: {family: 'Liberation Sans', size: tickSize, color: inkColor},
        title: {text: 'Cycle Periods in Years (T=1/Freq)', standoff: titleGap, font: {family: 'Liberation Sans', size: axisTitleSize, color: inkColor}}
    };
}

// Title lines as one annotation each so the line pitch can match
function titleLines(lines, firstCentre) {
    return lines.map((text, i) => ({
        text: text, xref: 'paper', yref: 'paper', showarrow: false,
        x: (plotLeft + plotRight) / 2 / refW, xanchor: 'center',
        y: 1 - (firstCentre + i * 80.4) / refH, yanchor: 'middle',
        font: {family: 'Liberation Sans', size: mainTitleSize, color: '#000000', weight: 'bold'}
    }));
}

Plotly.newPlot('chart', [
    heatTrace(coherence, parula, 0, 1, coherenceTicks, 'x', 'y', 0),
    coiTrace('x', 'y'),
    heatTrace(phase, hsv, -Math.PI, Math.PI, phaseTicks, 'x2', 'y2', 1),
    coiTrace('x2', 'y2')
], {
    width: W, height: H, autosize: false,
    margin: {t: 0, r: 0, b: 0, l: 0, pad: 0},
    paper_bgcolor: '#ffffff', plot_bgcolor: '#ffffff',
    showlegend: false,
    xaxis: xAxis('y'), yaxis: yAxis(0, 'x'),
    xaxis2: xAxis('y2'), yaxis2: yAxis(1, 'x2'),
    annotations: titleLines(coherenceTitle, 188).concat(titleLines(phaseTitle, 3232))
}, {displayModeBar: false});
</script>
</body>
</html>
